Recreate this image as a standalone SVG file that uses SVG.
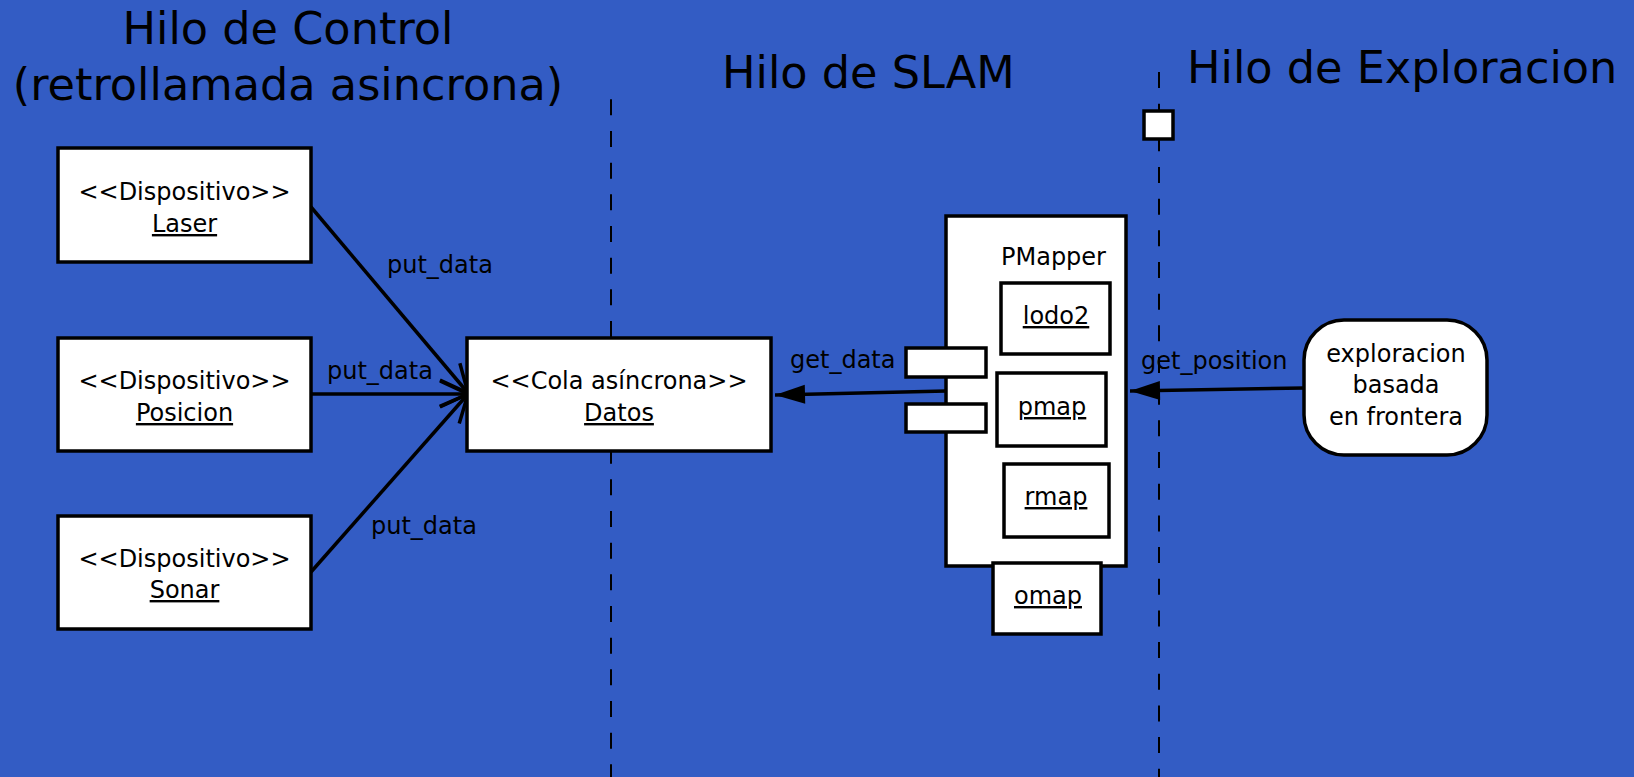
<svg xmlns="http://www.w3.org/2000/svg" width="1634" height="777" viewBox="0 0 1634 777">
<style>
.box{fill:#fff;stroke:#000;stroke-width:3.5}
.t{font-family:"DejaVu Sans",sans-serif;font-size:24px;fill:#000}
.c{text-anchor:middle}
.u{text-decoration:underline}
.title{font-family:"DejaVu Sans",sans-serif;font-size:44.6px;fill:#000}
.life{stroke:#000;stroke-width:2;stroke-dasharray:16 15.67;fill:none}
.conn{stroke:#000;stroke-width:3.5;fill:none}
</style>
<defs>
<marker id="open" markerUnits="userSpaceOnUse" viewBox="-34 -18 42 36" refX="0" refY="0" markerWidth="42" markerHeight="36" orient="auto">
<path d="M-28,-13 L0,0 L-28,13" fill="none" stroke="#000" stroke-width="3.5"/>
</marker>
<marker id="solid" markerUnits="userSpaceOnUse" viewBox="-32 -12 34 24" refX="0" refY="0" markerWidth="34" markerHeight="24" orient="auto">
<path d="M0,0 L-30,-9.5 L-30,9.5 Z" fill="#000"/>
</marker>
</defs>
<rect width="1634" height="777" fill="#335cc4"/>

<!-- thread titles -->
<g id="titles">
<text class="title" x="288" y="44" text-anchor="middle">Hilo de Control</text>
<text class="title" x="288" y="100" text-anchor="middle">(retrollamada asincrona)</text>
<text class="title" x="722" y="88">Hilo de SLAM</text>
<text class="title" x="1187" y="83">Hilo de Exploracion</text>
</g>

<!-- thread separators -->
<g id="lifelines">
<line class="life" x1="611" y1="99.3" x2="611" y2="777"/>
<line class="life" x1="1159" y1="72" x2="1159" y2="777"/>
<rect class="box" x="1144" y="111" width="29" height="28"/>
</g>

<!-- connectors -->
<g id="connectors">
<path class="conn" d="M311,207 L468,393" marker-end="url(#open)"/>
<path class="conn" d="M311,394 L468,394" marker-end="url(#open)"/>
<path class="conn" d="M311,572 L468,394" marker-end="url(#open)"/>
<path class="conn" d="M946,391 L775,395" marker-end="url(#solid)"/>
<path class="conn" d="M1304,388 L1130,391" marker-end="url(#solid)"/>
<text class="t" x="387" y="273">put_data</text>
<text class="t" x="327" y="379">put_data</text>
<text class="t" x="371" y="534">put_data</text>
<text class="t" x="790" y="368">get_data</text>
<text class="t" x="1141" y="369">get_position</text>
</g>

<g id="laser">
<rect class="box" x="58" y="148" width="253" height="114"/>
<text class="t c" x="184.5" y="200">&lt;&lt;Dispositivo&gt;&gt;</text>
<text class="t c u" x="184.5" y="232">Laser</text>
</g>

<g id="posicion">
<rect class="box" x="58" y="338" width="253" height="113"/>
<text class="t c" x="184.5" y="389">&lt;&lt;Dispositivo&gt;&gt;</text>
<text class="t c u" x="184.5" y="421">Posicion</text>
</g>

<g id="sonar">
<rect class="box" x="58" y="516" width="253" height="113"/>
<text class="t c" x="184.5" y="567">&lt;&lt;Dispositivo&gt;&gt;</text>
<text class="t c u" x="184.5" y="598">Sonar</text>
</g>

<g id="datos">
<rect class="box" x="467" y="338" width="304" height="113"/>
<text class="t c" x="619" y="389">&lt;&lt;Cola asíncrona&gt;&gt;</text>
<text class="t c u" x="619" y="421">Datos</text>
</g>

<g id="pmapper">
<rect class="box" x="946" y="216" width="180" height="350"/>
<text class="t" x="1001" y="265">PMapper</text>
<rect class="box" x="906" y="348" width="80" height="29"/>
<rect class="box" x="906" y="404" width="80" height="28"/>
</g>

<g id="lodo2">
<rect class="box" x="1001" y="283" width="109" height="71"/>
<text class="t c u" x="1056" y="324">lodo2</text>
</g>

<g id="pmap">
<rect class="box" x="997" y="373" width="109" height="73"/>
<text class="t c u" x="1052" y="415">pmap</text>
</g>

<g id="rmap">
<rect class="box" x="1004" y="464" width="105" height="73"/>
<text class="t c u" x="1056" y="505">rmap</text>
</g>

<g id="omap">
<rect class="box" x="993" y="563" width="108" height="71"/>
<text class="t c u" x="1048" y="604">omap</text>
</g>

<g id="exploracion">
<rect class="box" x="1304" y="320" width="183" height="135" rx="40" ry="40"/>
<text class="t c" x="1396" y="362">exploracion</text>
<text class="t c" x="1396" y="393">basada</text>
<text class="t c" x="1396" y="425">en frontera</text>
</g>
</svg>
